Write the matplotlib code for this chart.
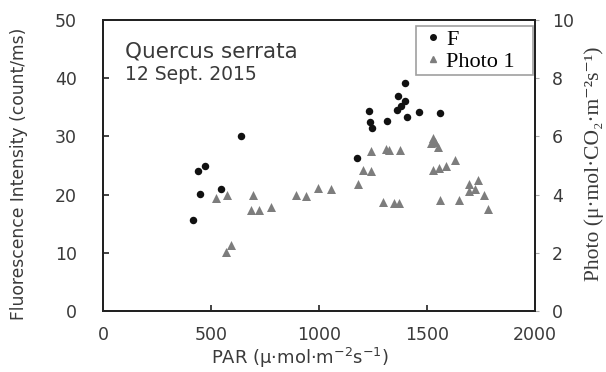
import matplotlib
matplotlib.use("Agg")
import matplotlib.pyplot as plt
from matplotlib.lines import Line2D

# F data (left axis, count/ms)
f_par = [417, 440, 451, 471, 548, 640, 1175, 1230, 1238, 1244, 1315, 1361,
         1364, 1380, 1398, 1400, 1407, 1461, 1560]
f_val = [15.6, 24.0, 20.1, 25.0, 20.9, 30.1, 26.3, 34.3, 32.5, 31.4, 32.6, 34.6,
         37.0, 35.3, 39.2, 36.1, 33.4, 34.2, 34.1]

# Photo 1 data (right axis)
p_par = [525, 576, 568, 594, 694, 684, 722, 779, 891, 941, 994, 1056, 1179,
         1205, 1241, 1241, 1310, 1322, 1376, 1295, 1349, 1372, 1518, 1526,
         1536, 1549, 1526, 1557, 1587, 1630, 1560, 1646, 1692, 1695, 1734,
         1723, 1764, 1780]
p_val = [3.9, 4.0, 2.04, 2.27, 3.98, 3.46, 3.46, 3.56, 3.98, 3.96, 4.24, 4.18,
         4.36, 4.83, 4.8, 5.5, 5.58, 5.54, 5.52, 3.74, 3.72, 3.7, 5.76, 5.96,
         5.8, 5.64, 4.84, 4.9, 5.0, 5.18, 3.8, 3.8, 4.38, 4.14, 4.5, 4.2,
         3.98, 3.52]

x_ticks = [0, 500, 1000, 1500, 2000]
y_ticks = [0, 10, 20, 30, 40, 50]
y2_ticks = [0, 2, 4, 6, 8, 10]

sans = ['DejaVu Sans']
serif = ['Liberation Serif', 'DejaVu Serif']
plt.rcParams['font.family'] = sans
plt.rcParams['mathtext.fontset'] = 'dejavusans'

txt = '#3a3a3a'

fig = plt.figure(figsize=(6.06, 3.72), dpi=100)
ax = fig.add_axes([0.170, 0.164, 0.713, 0.782])
ax2 = ax.twinx()

ax.scatter(f_par, f_val, s=29, color='#111111', marker='o', zorder=3, linewidths=0)
ax2.scatter(p_par, p_val, s=42, color='#7d7d7d', marker='^', zorder=2, linewidths=0)

ax.set_xlim(0, 2000)
ax.set_ylim(0, 50)
ax2.set_ylim(0, 10)
ax.set_xticks(x_ticks)
ax.set_yticks(y_ticks)
ax2.set_yticks(y2_ticks)

for a in (ax, ax2):
    for s in a.spines.values():
        s.set_linewidth(1.4)
        s.set_color('#222222')

ax.tick_params(axis='x', direction='in', length=4, width=1.2, labelsize=12.5,
               colors='#222222', labelcolor=txt, pad=11)
ax.tick_params(axis='y', direction='in', length=4, width=1.2, labelsize=12.5,
               colors='#222222', labelcolor=txt, pad=19)
ax2.tick_params(axis='y', direction='out', length=3, width=0.8, labelsize=12.5,
                colors='#aaaaaa', labelcolor=txt, pad=9)

ax.set_xlabel(r'PAR ($\mathrm{\mu}$·mol·m$^{-2}$s$^{-1}$)', fontsize=13, color=txt)
ax.xaxis.set_label_coords(0.456, -0.12)
ax.set_ylabel('Fluorescence Intensity (count/ms)', fontsize=12.3, color=txt)
ax.yaxis.set_label_coords(-0.174, 0.47)
ax2.set_ylabel('Photo (μ·mol·CO₂·m⁻²s⁻¹)', family=serif, fontsize=15.5, color=txt,
               rotation=90)
ax2.yaxis.set_label_coords(1.113, 0.505)

ax.text(0.051, 0.873, 'Quercus serrata', transform=ax.transAxes,
        fontsize=15.5, color=txt, va='baseline')
ax.text(0.051, 0.794, '12 Sept. 2015', transform=ax.transAxes,
        fontsize=13.5, color=txt, va='baseline')

handles = [Line2D([], [], ls='', marker='o', color='#111111', markersize=4),
           Line2D([], [], ls='', marker='^', color='#7d7d7d', markersize=5)]
leg = ax.legend(handles, ['F', 'Photo 1'], loc='upper right', mode='expand',
                bbox_to_anchor=(0.7245, 0.5, 0.271, 0.479),
                prop={'family': serif, 'size': 16},
                frameon=True, fancybox=False, edgecolor='#888888',
                handletextpad=0.0, handlelength=1.2, borderpad=0.15,
                labelspacing=0.05, borderaxespad=0.0)
leg.get_frame().set_linewidth(1.2)
leg.set_zorder(5)

fig.savefig('out.png', dpi=100)
